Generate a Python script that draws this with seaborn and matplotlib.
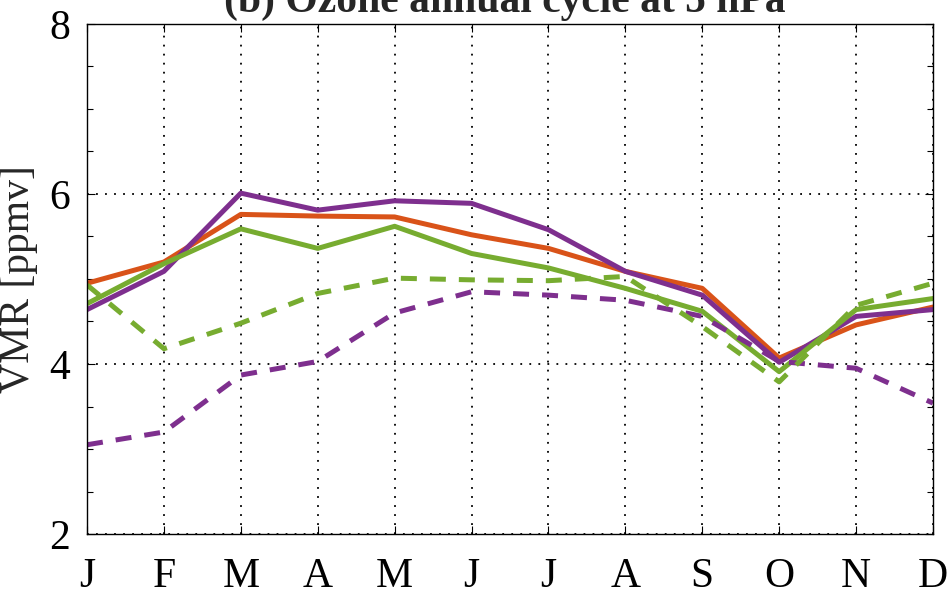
#!/usr/bin/env python3
"""Ozone annual cycle at 5 hPa."""
import matplotlib

matplotlib.use("Agg")
import matplotlib.pyplot as plt
import pandas as pd
import seaborn as sns
from matplotlib.ticker import MultipleLocator

sns.set_theme(style="ticks")
plt.rcParams["font.family"] = ["Liberation Serif", "DejaVu Serif"]

months = ["J", "F", "M", "A", "M", "J", "J", "A", "S", "O", "N", "D"]

orange_solid = [4.95, 5.20, 5.76, 5.74, 5.73, 5.52, 5.36, 5.09, 4.89, 4.07, 4.46, 4.67]
purple_solid = [4.64, 5.09, 6.01, 5.81, 5.92, 5.89, 5.58, 5.09, 4.81, 4.02, 4.56, 4.64]
green_solid = [4.71, 5.18, 5.59, 5.36, 5.62, 5.30, 5.13, 4.89, 4.62, 3.91, 4.64, 4.77]
purple_dashed = [3.05, 3.20, 3.87, 4.03, 4.60, 4.85, 4.81, 4.75, 4.56, 4.03, 3.95, 3.54]
green_dashed = [4.93, 4.18, 4.48, 4.83, 5.01, 4.99, 4.98, 5.03, 4.44, 3.79, 4.69, 4.95]

DASH = (0, (3.2, 2.6))
series = [
    ("orange", orange_solid, "#D95319", "-"),
    ("purple", purple_solid, "#7E2F8E", "-"),
    ("green", green_solid, "#77AC30", "-"),
    ("purple_d", purple_dashed, "#7E2F8E", DASH),
    ("green_d", green_dashed, "#77AC30", DASH),
]

fig = plt.figure(figsize=(9.47, 5.95), dpi=100)
ax = fig.add_axes([0.0919, 0.1025, 0.8933, 0.8572])

x = list(range(len(months)))
for name, vals, color, ls in series:
    df = pd.DataFrame({"month": x, "vmr": vals})
    sns.lineplot(data=df, x="month", y="vmr", ax=ax, color=color,
                 linewidth=3.6, linestyle=ls, legend=False)

ax.set_xlim(0, 11)
ax.set_ylim(2, 8)
ax.set_xticks(x)
ax.set_xticklabels(months)
ax.set_yticks([2, 4, 6, 8])
ax.yaxis.set_minor_locator(MultipleLocator(0.5))
ax.tick_params(axis="both", which="both", direction="in", top=True, right=True,
               labelsize=30, width=0.8, colors="black")
ax.tick_params(axis="both", which="major", length=6)
ax.tick_params(axis="y", which="minor", length=4)
ax.tick_params(axis="x", pad=17)
ax.tick_params(axis="y", pad=12)
ax.grid(True, which="major", color="black", linestyle=(0, (1, 4)), linewidth=1.3)
for s in ax.spines.values():
    s.set_linewidth(1.0)
    s.set_color("black")
ax.set_xlabel("")
ax.set_ylabel("VMR [ppmv]", fontsize=30, labelpad=8)

fig.text(0.533, 0.98, "(b) Ozone annual cycle at 5 hPa", ha="center",
         va="baseline", fontsize=30, fontweight="bold")

fig.savefig("out.png", dpi=100)
